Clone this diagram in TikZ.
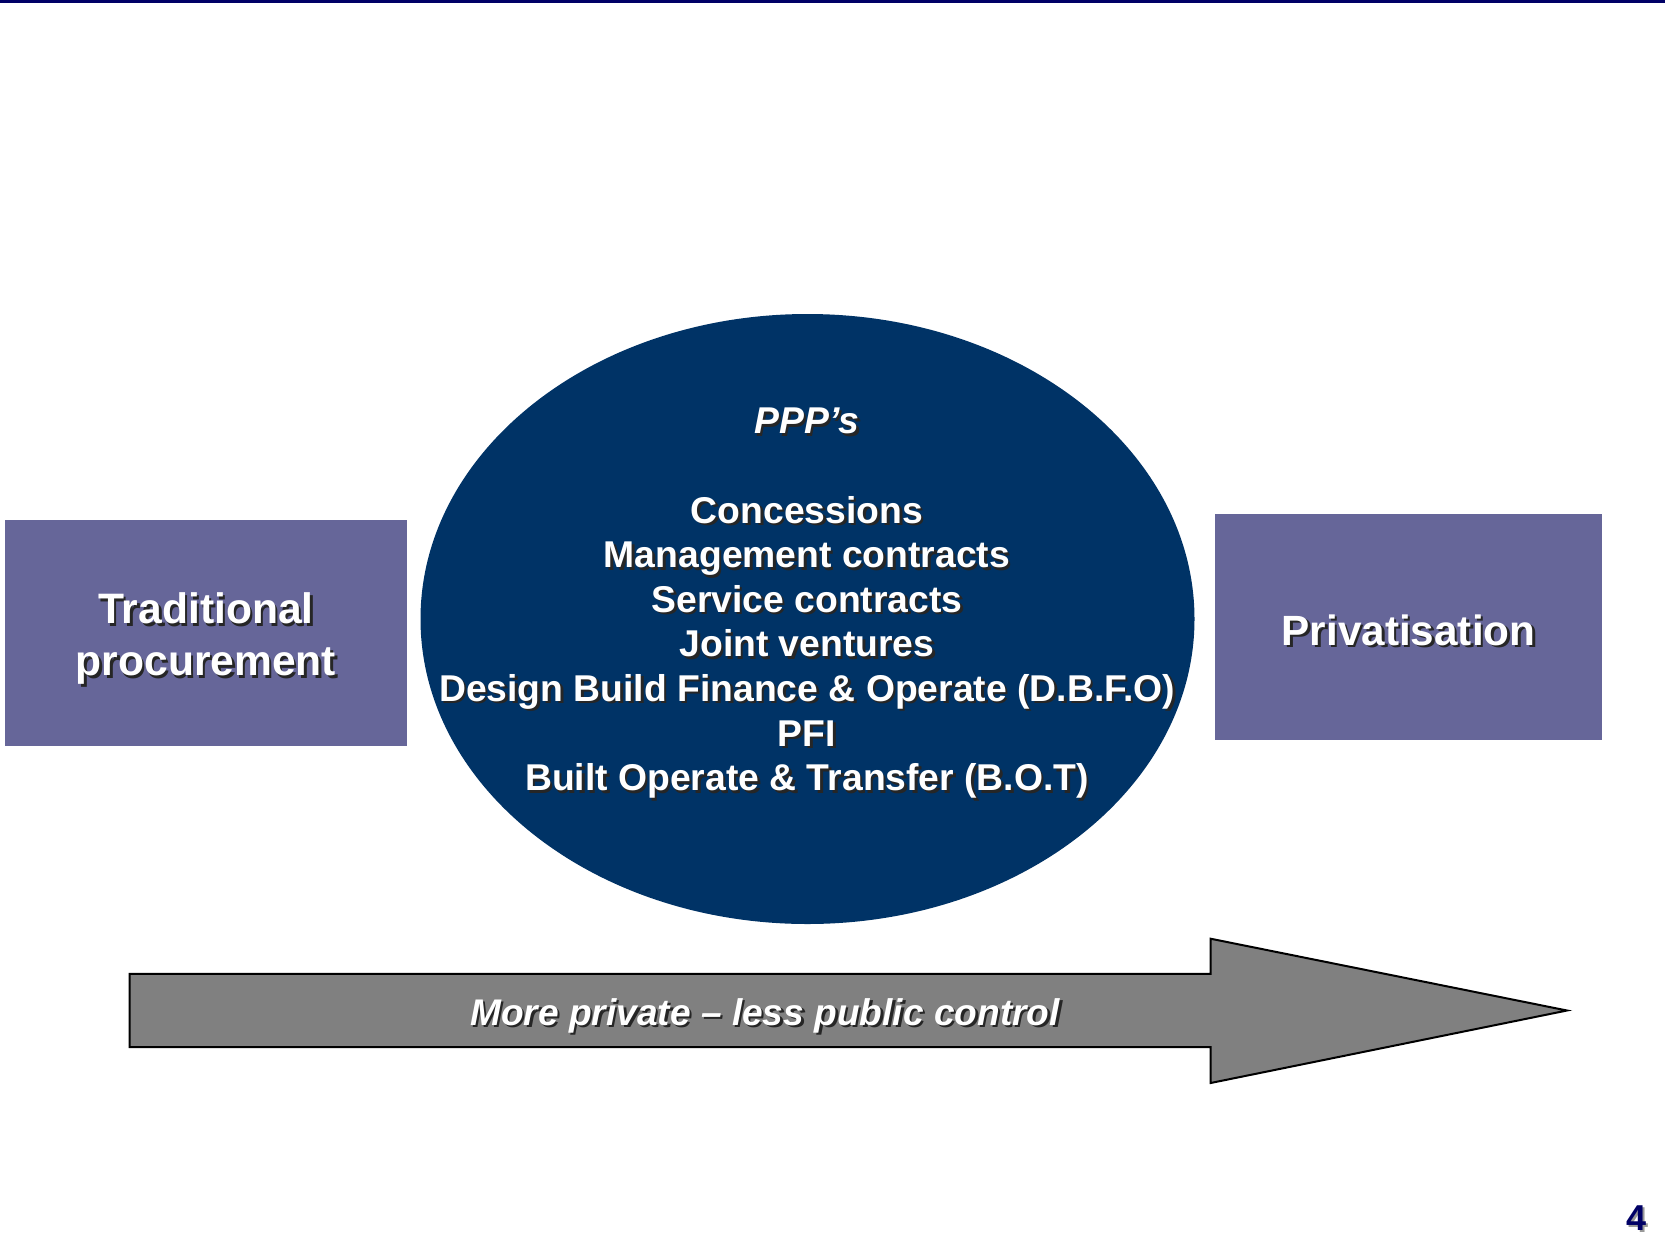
\documentclass[tikz,border=0pt]{standalone}
\usepackage{fontspec}
\setmainfont{Liberation Sans}
\usetikzlibrary{shapes.geometric}
\definecolor{boxfill}{RGB}{102,102,153}
\definecolor{ellfill}{RGB}{0,51,102}
\definecolor{arrfill}{RGB}{128,128,128}
\definecolor{navy}{RGB}{0,0,102}
\tikzset{
  lbl/.style={text=white,font=\bfseries\fontsize{#1}{#1}\selectfont,anchor=base,inner sep=0pt},
  lblshadow/.style={text=black!85,font=\bfseries\fontsize{#1}{#1}\selectfont,anchor=base,inner sep=0pt},
  sidebox/.style={fill=boxfill,draw=none},
}
\newcommand{\shtext}[5]{%
  \node[lblshadow=#3] at ([xshift=2.5pt,yshift=-2.5pt]#1) {#4};
  \node[lbl=#3] (#2) at (#1) {#4};}
\newcommand{\shitext}[5]{%
  \node[lblshadow=#3] at ([xshift=2.5pt,yshift=-2.5pt]#1) {\itshape #4};
  \node[lbl=#3] (#2) at (#1) {\itshape #4};}
\begin{document}
\begin{tikzpicture}[x=1pt,y=-1pt]
\useasboundingbox (0,0) rectangle (1665,1251);
\fill[white] (0,0) rectangle (1665,1251);
% top rule
\fill[navy] (0,0) rectangle (1665,2.5);
% side boxes
\fill[sidebox] (5,520) rectangle (407,746);
\fill[sidebox] (1215,514) rectangle (1602,740);
% ellipse
\node[ellipse,fill=ellfill,draw=none,minimum width=774pt,minimum height=610pt,inner sep=0pt] (ppp) at (807.5,619) {};
% arrow
\draw[fill=arrfill,draw=black,line width=2pt,line join=miter]
  (129.5,973.8) -- (1210.6,973.8) -- (1210.6,938.7) -- (1567,1010.5)
  -- (1210.6,1083) -- (1210.6,1047) -- (129.5,1047) -- cycle;
% box texts
\shtext{206,623.5}{trad1}{42.6}{Traditional}{}
\shtext{206,675.5}{trad2}{42.6}{procurement}{}
\shtext{1408.5,645}{priv}{42.3}{Privatisation}{}
% ellipse texts
\shitext{807,433.5}{t0}{37.3}{PPP’s}{}
\shtext{807,523}{t1}{37.3}{Concessions}{}
\shtext{807,567.6}{t2}{37.3}{Management contracts}{}
\shtext{807,612.2}{t3}{37.3}{Service contracts}{}
\shtext{807,656.8}{t4}{37.3}{Joint ventures}{}
\shtext{807,701.4}{t5}{37.3}{Design Build Finance \& Operate (D.B.F.O)}{}
\shtext{807,746}{t6}{37.3}{PFI}{}
\shtext{807,790.6}{t7}{37.3}{Built Operate \& Transfer (B.O.T)}{}
% arrow text
\shitext{765,1025}{arrtxt}{37.1}{More private – less public control}{}
% page number
\node[text=black!40,font=\bfseries\fontsize{36}{36}\selectfont,anchor=base,inner sep=0pt] at (1638,1232) {4};
\node[text=navy,font=\bfseries\fontsize{36}{36}\selectfont,anchor=base,inner sep=0pt] (pg) at (1636,1230) {4};
\end{tikzpicture}
\end{document}
